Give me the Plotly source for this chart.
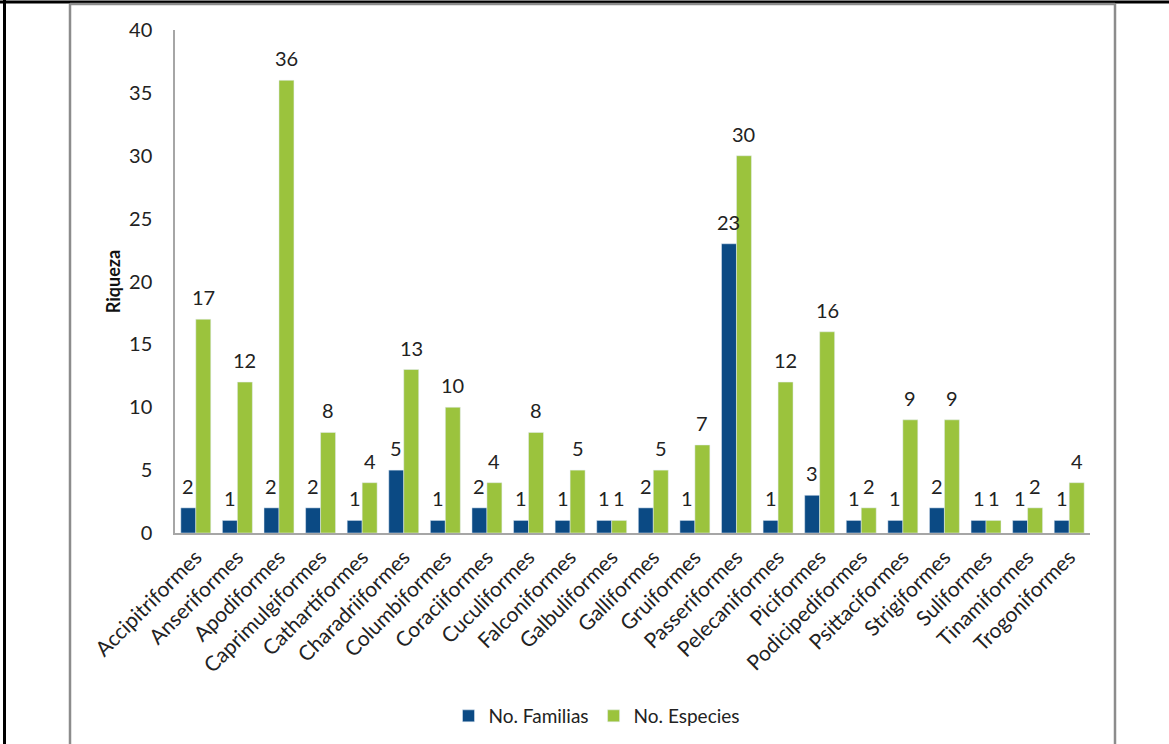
import plotly.graph_objects as go

ordenes = ["Accipitriformes", "Anseriformes", "Apodiformes", "Caprimulgiformes",
           "Cathartiformes", "Charadriiformes", "Columbiformes", "Coraciiformes",
           "Cuculiformes", "Falconiformes", "Galbuliformes", "Galliformes",
           "Gruiformes", "Passeriformes", "Pelecaniformes", "Piciformes",
           "Podicipediformes", "Psittaciformes", "Strigiformes", "Suliformes",
           "Tinamiformes", "Trogoniformes"]
familias = [2, 1, 2, 2, 1, 5, 1, 2, 1, 1, 1, 2, 1, 23, 1, 3, 1, 1, 2, 1, 1, 1]
especies = [17, 12, 36, 8, 4, 13, 10, 4, 8, 5, 1, 5, 7, 30, 12, 16, 2, 9, 9, 1, 2, 4]

AZUL = "#0B4A84"
VERDE = "#9BC33D"
FONT = "Lato, 'Open Sans', sans-serif"
TXT = "#222222"

W, H = 1169, 744
L, R, T, B = 175, 1090, 30, 533   # plot area in pixels

fig = go.Figure()
fig.add_trace(go.Bar(x=ordenes, y=familias, name="No. Familias", marker_color=AZUL))
fig.add_trace(go.Bar(x=ordenes, y=especies, name="No. Especies", marker_color=VERDE))

# value labels above each bar
for serie, dx in ((familias, -7.5), (especies, 7.5)):
    for cat, v in zip(ordenes, serie):
        fig.add_annotation(x=cat, y=v, text=str(v), showarrow=False,
                           xshift=dx, yshift=8, yanchor="bottom",
                           font=dict(family=FONT, size=20, color=TXT))

def px(xp):
    return (xp - L) / (R - L)

def py(yp):
    return (B - yp) / (B - T)

# page border lines and chart frame
frame = [
    (0, 2, W, 2, "#000000", 3),
    (4.5, 0, 4.5, H, "#000000", 3),
    (70, 4, 70, H + 5, "#8C8C8C", 2.5),
    (70, 4, 1115, 4, "#8C8C8C", 2.5),
    (1115, 4, 1115, H + 5, "#8C8C8C", 2.5),
]
for x0, y0, x1, y1, col, w in frame:
    fig.add_shape(type="line", xref="paper", yref="paper",
                  x0=px(x0), y0=py(y0), x1=px(x1), y1=py(y1),
                  line=dict(color=col, width=w))

fig.update_layout(
    width=W, height=H,
    margin=dict(l=L, r=W - R, t=T, b=H - B, autoexpand=False),
    paper_bgcolor="white", plot_bgcolor="white",
    barmode="group", bargap=0.28, bargroupgap=0,
    font=dict(family=FONT, size=19, color=TXT),
    legend=dict(orientation="h", x=px(597), xanchor="center",
                y=py(716), yanchor="middle",
                font=dict(family=FONT, size=19, color=TXT),
                itemwidth=30, tracegroupgap=0),
    showlegend=True,
)
fig.update_xaxes(
    tickangle=-45, showgrid=False, showline=True, linecolor="#A6A6A6",
    linewidth=1.5, ticks="", tickfont=dict(family=FONT, size=21, color=TXT),
    automargin=False, ticklabelstandoff=2,
)
fig.update_yaxes(
    range=[0, 40], dtick=5, showgrid=False, zeroline=False, showline=True,
    linecolor="#A6A6A6", linewidth=1.5, ticks="",
    tickfont=dict(family=FONT, size=20, color=TXT),
    ticklabelstandoff=17, automargin=False,
    title=dict(text="<b>Riqueza</b>", standoff=4,
               font=dict(family=FONT, size=18, color="#111111")),
)

fig.write_html("out.html")
